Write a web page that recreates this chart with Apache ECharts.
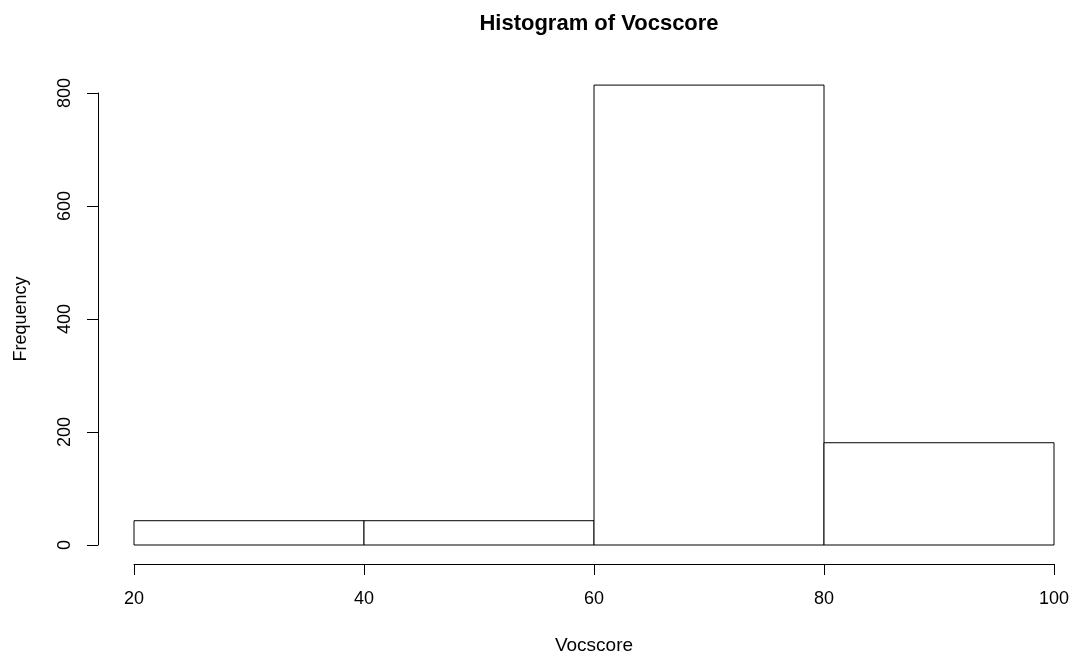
<!DOCTYPE html>
<html>
<head>
<meta charset="utf-8">
<script src="https://cdn.jsdelivr.net/npm/echarts@6/dist/echarts.min.js"></script>
<style>
html,body{margin:0;padding:0;background:#fff;}
#chart{width:1071px;height:655px;}
</style>
</head>
<body>
<div id="chart"></div>
<script>
const binStarts = [20, 40, 60, 80];
const binEnds = [40, 60, 80, 100];
const counts = [43, 43, 814, 181];
const titleText = 'Histogram of Vocscore';
const xName = 'Vocscore';
const yName = 'Frequency';

const data = binStarts.map((s, i) => [s, binEnds[i], counts[i]]);
const FONT = '"Liberation Sans", Arial, sans-serif';

const chart = echarts.init(document.getElementById('chart'), null, {renderer: 'canvas'});
chart.setOption({
  backgroundColor: '#ffffff',
  animation: false,
  title: {
    text: titleText,
    left: 594,
    top: 8,
    textAlign: 'center',
    textStyle: {fontFamily: FONT, fontSize: 22, fontWeight: 'bold', color: '#000'}
  },
  grid: {left: 134, right: 17, top: 93, bottom: 110, containLabel: false, outerBoundsMode: 'none'},
  xAxis: {
    type: 'value', min: 20, max: 100, interval: 20,
    offset: 19,
    name: xName, nameLocation: 'middle', nameGap: 72,
    nameTextStyle: {fontFamily: FONT, fontSize: 19, color: '#000'},
    axisLine: {show: true, onZero: false, lineStyle: {color: '#000', width: 1}},
    axisTick: {show: true, length: 11, lineStyle: {color: '#000'}},
    axisLabel: {fontFamily: FONT, fontSize: 18, color: '#000', margin: 26},
    splitLine: {show: false}
  },
  yAxis: {
    type: 'value', min: 0, max: 800, interval: 200,
    offset: 36,
    name: yName, nameLocation: 'middle', nameGap: 68,
    nameTextStyle: {fontFamily: FONT, fontSize: 18, color: '#000'},
    axisLine: {show: true, onZero: false, lineStyle: {color: '#000', width: 1}},
    axisTick: {show: true, length: 11, lineStyle: {color: '#000'}},
    axisLabel: {fontFamily: FONT, fontSize: 18, color: '#000', margin: 24, rotate: 90},
    splitLine: {show: false}
  },
  series: [{
    type: 'custom',
    clip: false,
    data: data,
    renderItem: function (params, api) {
      const p0 = api.coord([api.value(0), 0]);
      const p1 = api.coord([api.value(1), api.value(2)]);
      return {
        type: 'rect',
        shape: {x: p0[0], y: p1[1], width: p1[0] - p0[0], height: p0[1] - p1[1]},
        style: {fill: '#ffffff', stroke: '#000000', lineWidth: 1}
      };
    }
  }]
});
</script>
</body>
</html>
